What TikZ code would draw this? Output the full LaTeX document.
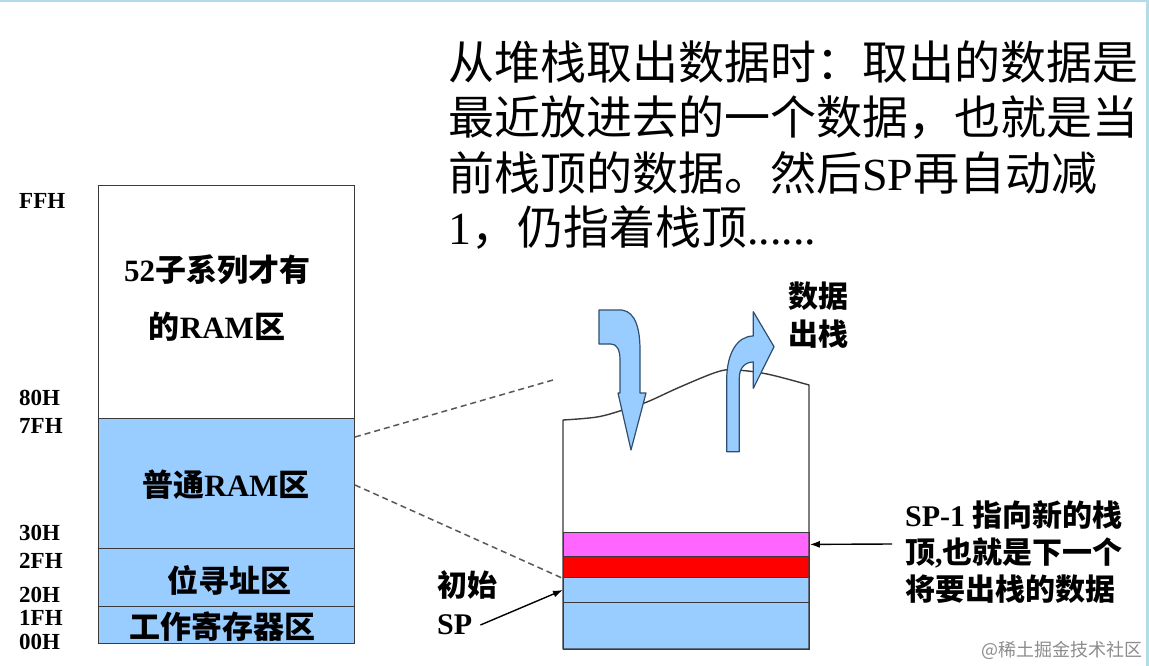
\documentclass[tikz,border=0pt]{standalone}
\usepackage{fontspec}
\setmainfont{Liberation Serif}
\newfontfamily\cjk{Noto Sans CJK SC}
\usetikzlibrary{arrows.meta}
\definecolor{memblue}{HTML}{99CCFF}
\definecolor{magentaL}{HTML}{FF66FF}
\definecolor{redL}{HTML}{FF0000}
\definecolor{edge}{HTML}{3A3A3A}
\definecolor{framecol}{HTML}{B4DCE8}
\definecolor{arrowedge}{HTML}{2F4F6F}
\begin{document}
\begin{tikzpicture}[x=1pt,y=-1pt,
  region/.style={draw=edge, line width=1.4pt, minimum width=256pt, inner sep=0pt, anchor=north west},
  layer/.style={draw=edge, line width=0.8pt, minimum width=246pt, inner sep=0pt, anchor=north west},
  addr/.style={anchor=west, inner sep=0pt, text height=16pt, text depth=0pt, font=\bfseries\fontsize{23}{23}\selectfont},
  boxtxt/.style={inner sep=0pt, font=\bfseries\fontsize{31}{36}\selectfont},
  lbl/.style={inner sep=0pt, font=\bfseries\fontsize{30}{34}\selectfont},
  toptxt/.style={anchor=west, inner sep=0pt, font=\cjk\fontsize{46}{55}\selectfont},
  bigarrow/.style={fill=memblue, draw=arrowedge, line width=1.2pt, line join=round},
  ptr/.style={draw=black, line width=1.4pt, -{Latex[length=10pt,width=7pt]}},
  guide/.style={draw=edge!85, line width=1.5pt, dash pattern=on 6pt off 4pt}
]
\useasboundingbox (0,0) rectangle (1149,666);
\fill[white] (0,0) rectangle (1149,666);
\fill[framecol] (0,0) rectangle (1149,2.5);
\fill[framecol] (1146,0) rectangle (1149,666);

% top explanatory text
\node[toptxt] (t1) at (448,62) {从堆栈取出数据时：取出的数据是};
\node[toptxt] (t2) at (448,118) {最近放进去的一个数据，也就是当};
\node[toptxt] (t3) at (448,173) {前栈顶的数据。然后{\rmfamily SP}再自动减};
\node[toptxt] (t4) at (448,228) {{\rmfamily 1}，仍指着栈顶{\rmfamily ......}};

% memory map
\node[region, fill=white, minimum height=233pt] (r52) at (98,185) {};
\node[region, fill=memblue, minimum height=130pt] (rram) at (98,418) {};
\node[region, fill=memblue, minimum height=58pt] (rbit) at (98,548) {};
\node[region, fill=memblue, minimum height=37pt] (rreg) at (98,606) {};

\node[boxtxt] (l52a) at (217,270) {52{\cjk 子系列才有}};
\node[boxtxt] (l52b) at (217,327) {{\cjk 的}RAM{\cjk 区}};
\node[boxtxt] (lram) at (226,485) {{\cjk 普通}RAM{\cjk 区}};
\node[boxtxt] (lbit) at (229,580) {\cjk 位寻址区};
\node[boxtxt] (lreg) at (222,627) {\cjk 工作寄存器区};

\node[addr] (aFF) at (19,200) {FFH};
\node[addr] (a80) at (19,397) {80H};
\node[addr] (a7F) at (19,425) {7FH};
\node[addr] (a30) at (19,532) {30H};
\node[addr] (a2F) at (19,560) {2FH};
\node[addr] (a20) at (19,594) {20H};
\node[addr] (a1F) at (19,617) {1FH};
\node[addr] (a00) at (19,641) {00H};

% stack
\node[layer, fill=memblue, minimum height=47pt] (lay0) at (563,602) {};
\node[layer, fill=memblue, minimum height=25pt] (lay1) at (563,577) {};
\node[layer, fill=redL, minimum height=21pt] (red) at (563,556) {};
\node[layer, fill=magentaL, minimum height=24pt] (mag) at (563,532) {};
\draw[draw=edge, line width=1.4pt, line join=round]
  (563,649) -- plot[smooth, tension=0.6] coordinates {(563,420) (597,417) (623,410) (647,402) (680,387) (717,372) (735,370) (767,374) (809,385)}
  -- (809,649) -- cycle;

% curved arrows
\draw[bigarrow] (599,310) -- (622,310) .. controls (636,312) and (640,330) .. (640,350)
  -- (640,393) -- (646,393) -- (631,450) -- (618,393) -- (620,393) -- (620,360)
  .. controls (620,350) and (617,344) .. (611,344) -- (599,344) -- cycle;
\draw[bigarrow] (726.7,451.7) -- (726.7,380) .. controls (726.7,352) and (738,336) .. (753.3,336)
  -- (753.3,311.7) -- (774,346.7) -- (753.3,388.3) -- (753.3,362)
  .. controls (745,362) and (739.3,368) .. (739.3,378) -- (739.3,451.7) -- cycle;

% dashed guides
\coordinate (d1s) at (355,437);
\coordinate (d1e) at (553,380);
\coordinate (d2s) at (355,485);
\coordinate (d2e) at (562,578);
\draw[guide] (d1s) -- (d1e);
\draw[guide] (d2s) -- (d2e);

% labels
\node[lbl] (out1) at (818,296) {\cjk 数据};
\node[lbl] (out2) at (818,334) {\cjk 出栈};
\node[lbl, anchor=west] (init) at (437,585) {\cjk 初始};
\node[lbl, anchor=west] (sp) at (437,625) {SP};
\coordinate (sp0) at (563,590);
\draw[ptr] ([xshift=8pt]sp.east) -- (sp0);

\node[lbl, anchor=west] (n1) at (905,515) {SP-1 {\cjk 指向新的栈}};
\node[lbl, anchor=west] (n2) at (905,553) {{\cjk 顶},{\cjk 也就是下一个}};
\node[lbl, anchor=west] (n3) at (905,589) {\cjk 将要出栈的数据};
\coordinate (a1s) at (892,544);
\draw[ptr] (a1s) -- (mag.east);

\node[anchor=east, inner sep=0pt, text=black!45, font=\cjk\fontsize{18}{20}\selectfont] (wm) at (1143,650) {@稀土掘金技术社区};
\end{tikzpicture}
\end{document}
